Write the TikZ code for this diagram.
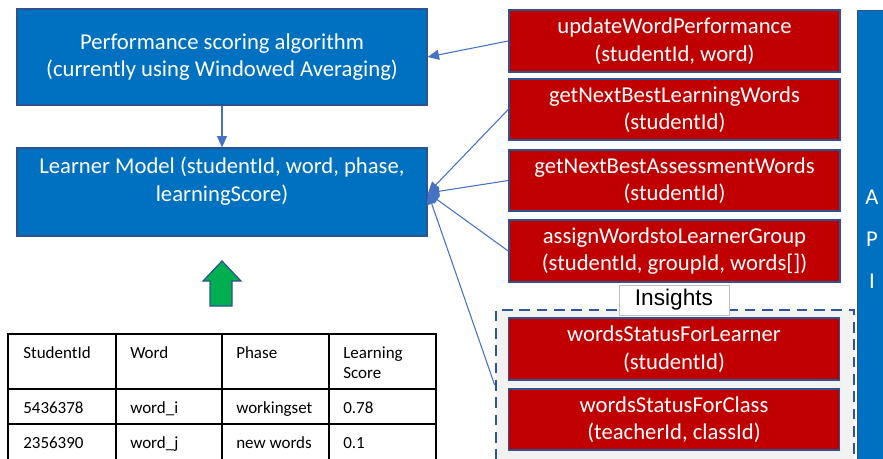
\documentclass[tikz,border=0pt]{standalone}
\usepackage{fontspec}
\setmainfont{Carlito}
\newfontfamily\arialfont{Liberation Sans}
\usetikzlibrary{arrows.meta}
\definecolor{boxblue}{RGB}{0,112,192}
\definecolor{boxred}{RGB}{192,0,0}
\definecolor{edgeblue}{RGB}{47,82,143}
\definecolor{linkblue}{RGB}{68,114,196}
\definecolor{dashblue}{RGB}{47,85,151}
\definecolor{insgray}{RGB}{242,242,242}
\definecolor{arrgreen}{RGB}{0,176,80}
\tikzset{
  sized/.style 2 args={minimum width=#1*0.75pt, minimum height=#2*0.75pt, inner sep=0pt},
  bigtext/.style={font=\fontsize{17}{20.7}\selectfont, text=white, align=center},
  bluebox/.style={draw=edgeblue, line width=1pt, fill=boxblue},
  redbox/.style={draw=edgeblue, line width=1.2pt, fill=boxred, bigtext},
  link/.style={draw=linkblue, line width=0.8pt, -{Triangle[length=8.5pt,width=7.5pt]}},
  cell/.style={font=\fontsize{12.75}{15.5}\selectfont, anchor=base west, inner sep=0pt},
  grid/.style={line width=1.3pt, black}
}
\begin{document}
\begin{tikzpicture}[x=0.75pt, y=-0.75pt]
\clip (0,0) rectangle (883,458);
% left blue boxes
\node[bluebox, bigtext, sized={410}{96}] (perf) at (222,57) {Performance scoring algorithm\\(currently using Windowed Averaging)};
\node[bluebox, sized={410}{88}] (lm) at (222,192) {};
\node[bigtext] (lmtext) at (222,181) {Learner Model (studentId, word, phase,\\learningScore)};
% API box
\node[bluebox, sized={40}{470}, anchor=north west] (api) at (857,10) {};
\node[bigtext, font=\fontsize{17}{31.5}\selectfont] (apitext) at (872,239) {A\\P\\I};
% insights group
\node[draw=dashblue, fill=insgray, line width=2pt, dash pattern=on 8pt off 5pt, sized={358}{150}] (ins) at (675,385) {};
\node[draw=black!25, line width=0.6pt, fill=white, sized={110}{30}, font=\arialfont\fontsize{17}{20}\selectfont] (inslabel) at (674,300) {Insights};
% red API boxes
\node[redbox, sized={331}{62}] (upd) at (674.5,41) {updateWordPerformance\\(studentId, word)};
\node[redbox, sized={331}{61}] (learn) at (674.5,109.5) {getNextBestLearningWords\\(studentId)};
\node[redbox, sized={331}{61}] (assess) at (674.5,180.5) {getNextBestAssessmentWords\\(studentId)};
\node[redbox, sized={331}{62}] (assign) at (674.5,251) {assignWordstoLearnerGroup\\(studentId, groupId, words[])};
\node[redbox, sized={331}{62}] (wsl) at (674,349) {wordsStatusForLearner\\(studentId)};
\node[redbox, sized={331}{61}] (wsc) at (674,419.5) {wordsStatusForClass\\(teacherId, classId)};
% connectors
\draw[link] (perf.south) -- (lm.north);
\draw[link] (upd.west) -- (perf.east);
\coordinate (lmin) at (428,193);
\draw[link] (learn.west) -- (lmin);
\draw[link] (assess.west) -- (lmin);
\draw[link] (assign.west) -- (lmin);
\draw[link] (ins.west) -- (lmin);
% green up arrow
\draw[draw=edgeblue, line width=0.9pt, fill=arrgreen] (222,261) -- (241,281) -- (232,281) -- (232,306) -- (210,306) -- (210,281) -- (203,281) -- cycle;
% table
\draw[grid] (8,470) -- (8,334) -- (436,334) -- (436,470);
\draw[grid] (8,389) -- (436,389);
\draw[grid] (8,424) -- (436,424);
\draw[grid] (116,334) -- (116,470);
\draw[grid] (222,334) -- (222,470);
\draw[grid] (329,334) -- (329,470);
\node[cell] (h1) at (23,358.5) {StudentId};
\node[cell] (h2) at (130,358.5) {Word};
\node[cell] (h3) at (236,358.5) {Phase};
\node[cell] (h4a) at (343,358.5) {Learning};
\node[cell] (h4b) at (343,378.5) {Score};
\node[cell] (r1a) at (23,413.5) {5436378};
\node[cell] (r1b) at (130,413.5) {word\_i};
\node[cell] (r1c) at (236,413.5) {workingset};
\node[cell] (r1d) at (343,413.5) {0.78};
\node[cell] (r2a) at (23,448.5) {2356390};
\node[cell] (r2b) at (130,448.5) {word\_j};
\node[cell] (r2c) at (236,448.5) {new words};
\node[cell] (r2d) at (343,448.5) {0.1};
\end{tikzpicture}
\end{document}
